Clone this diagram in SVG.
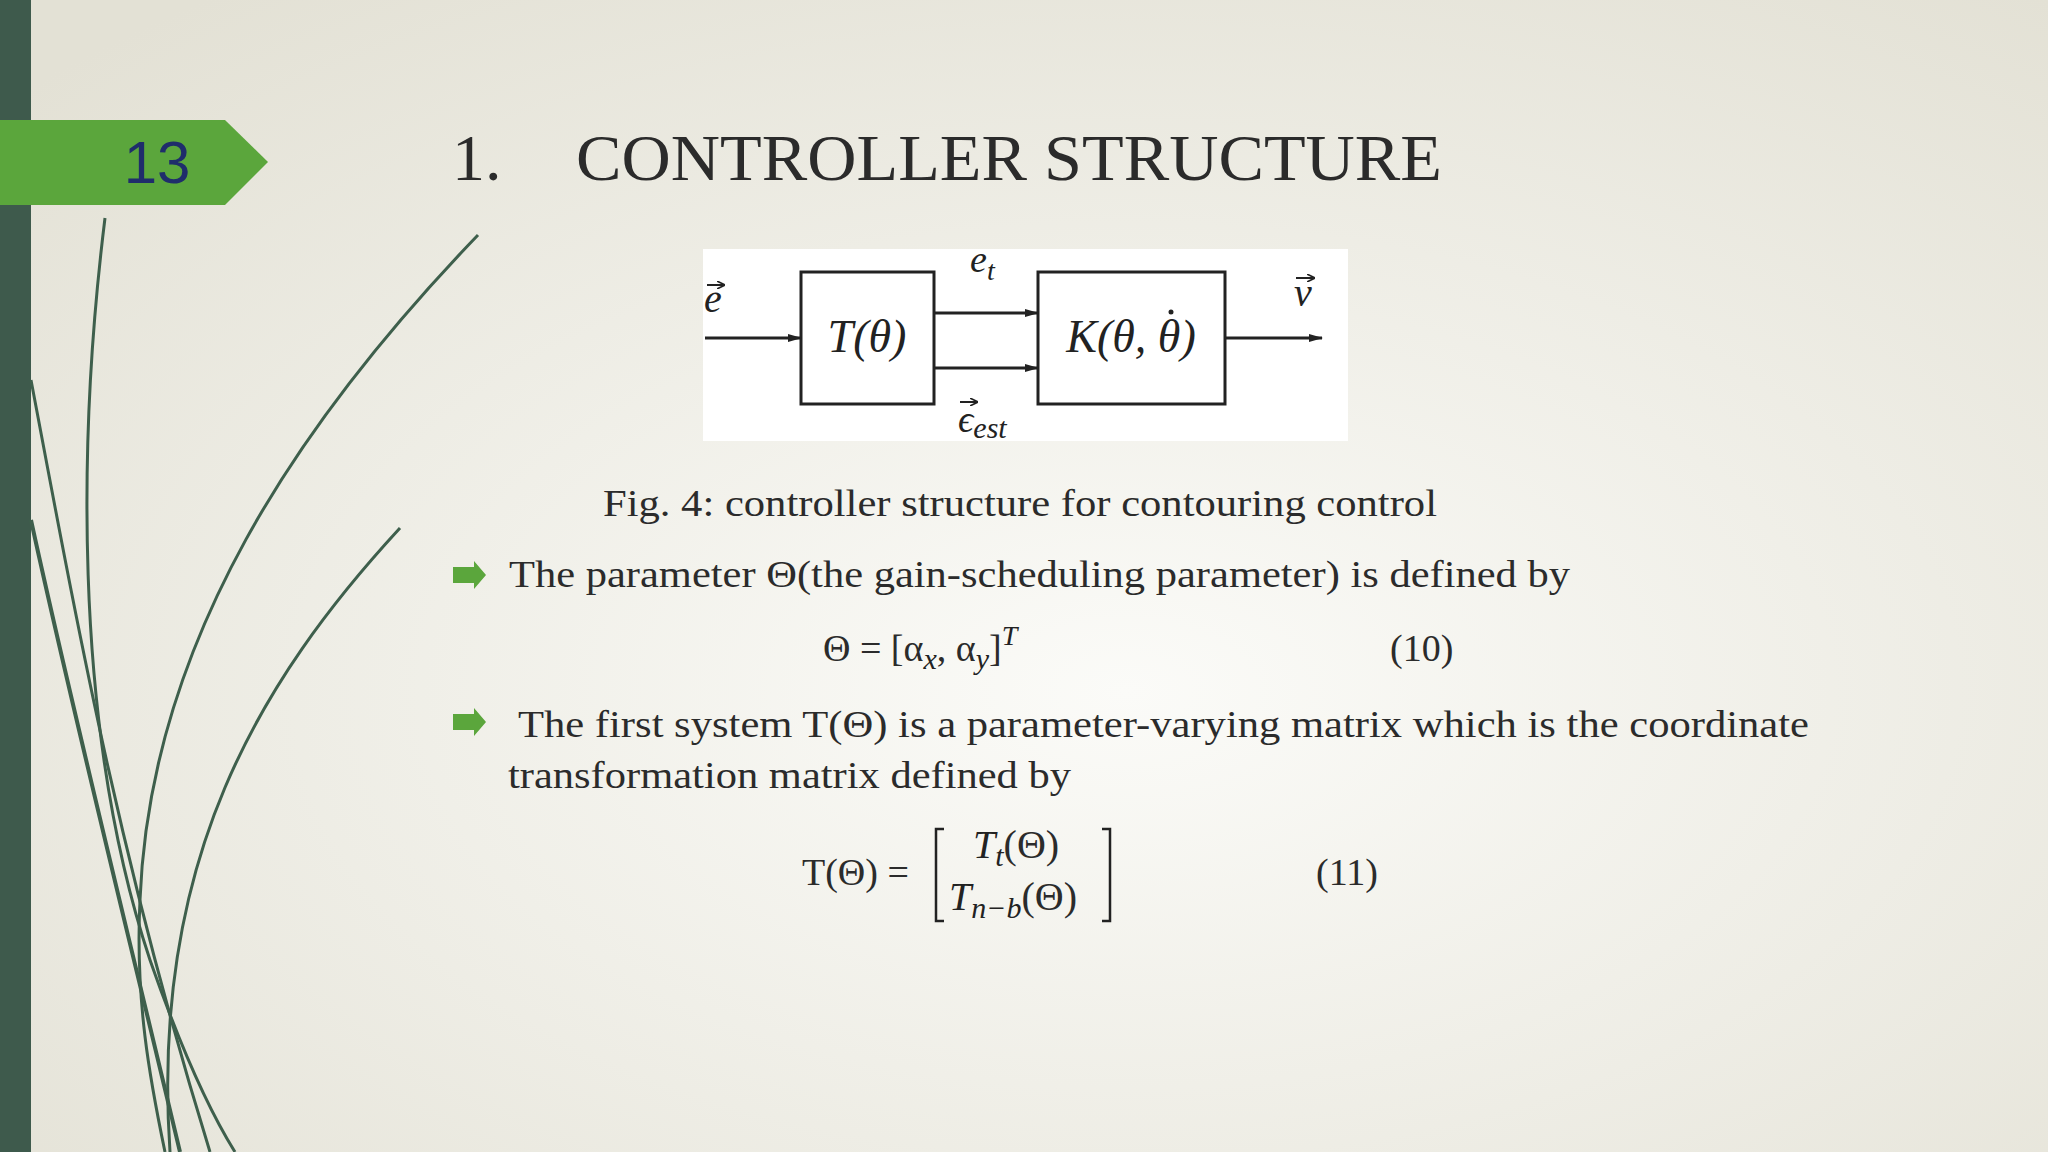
<svg xmlns="http://www.w3.org/2000/svg" width="2048" height="1152" viewBox="0 0 2048 1152">
<defs>
<radialGradient id="bg" cx="0.55" cy="0.6" r="0.75">
<stop offset="0" stop-color="#fbfbf8"/>
<stop offset="1" stop-color="#e3e1d5"/>
</radialGradient>
<marker id="ah" markerWidth="14" markerHeight="10" refX="13" refY="5" orient="auto" markerUnits="userSpaceOnUse">
<path d="M0,1 L14,5 L0,9 z" fill="#222"/>
</marker>
<marker id="va" markerWidth="8" markerHeight="8" refX="7" refY="4" orient="auto" markerUnits="userSpaceOnUse">
<path d="M0,0 L8,4 L0,8" fill="none" stroke="#222" stroke-width="1.6"/>
</marker>
<style>
.t{font-family:"Liberation Serif",serif;fill:#2b2b2b}
.m{font-family:"Liberation Serif",serif;font-style:italic;fill:#222}
.box{fill:none;stroke:#222;stroke-width:3}
.ln{stroke:#222;stroke-width:3;fill:none;marker-end:url(#ah)}
.vec{stroke:#222;stroke-width:2;fill:none;marker-end:url(#va)}
.cv{fill:none;stroke:#3e5f4c}
</style>
</defs>
<rect width="2048" height="1152" fill="url(#bg)"/>
<rect x="0" y="0" width="31" height="1152" fill="#3e5a4c"/>
<g id="curves">
<path class="cv" stroke-width="3" d="M105,218 C80,420 70,720 150,960 C185,1060 215,1120 235,1152"/>
<path class="cv" stroke-width="3" d="M400,528 C260,680 150,860 170,1152"/>
<path class="cv" stroke-width="3" d="M31,380 C80,640 120,860 210,1152"/>
<path class="cv" stroke="#b9c2a6" stroke-width="3" d="M478,235 C300,420 150,640 140,900 C135,1000 150,1080 165,1152"/>
<path class="cv" stroke="#c8c8ba" stroke-width="4" d="M31,520 C70,700 120,900 180,1152"/>
</g>
<g id="banner">
<path d="M0,120 L225,120 L268,162 L225,205 L0,205 z" fill="#5ba63c"/>
<text x="157" y="183" text-anchor="middle" font-family="Liberation Sans,sans-serif" font-size="60" fill="#1f2d6b">13</text>
</g>
<text class="t" x="452" y="180" font-size="66">1.</text>
<text class="t" x="576" y="180" font-size="66" textLength="866" lengthAdjust="spacingAndGlyphs">CONTROLLER STRUCTURE</text>
<g id="figure">
<rect x="703" y="249" width="645" height="192" fill="#ffffff"/>
<g id="nodeT"><rect class="box" x="801" y="272" width="133" height="132"/>
<text class="m" x="867" y="352" font-size="46" text-anchor="middle">T(θ)</text></g>
<g id="nodeK"><rect class="box" x="1038" y="272" width="187" height="132"/>
<text class="m" x="1131" y="352" font-size="46" text-anchor="middle">K(θ, θ)</text>
<circle cx="1171" cy="312" r="2.5" fill="#222"/></g>
<g id="connectors">
<line class="ln" x1="705" y1="338" x2="801" y2="338"/>
<line class="ln" x1="934" y1="313" x2="1038" y2="313"/>
<line class="ln" x1="934" y1="368" x2="1038" y2="368"/>
<line class="ln" x1="1225" y1="338" x2="1322" y2="338"/>
</g>
<text class="m" x="704" y="312" font-size="40">e</text>
<line class="vec" x1="707" y1="285" x2="724" y2="285"/>
<text class="m" x="970" y="272" font-size="38">e<tspan font-size="28" dy="8">t</tspan></text>
<text class="m" x="958" y="432" font-size="38">ϵ<tspan font-size="30" dy="6">est</tspan></text>
<line class="vec" x1="960" y1="402" x2="977" y2="402"/>
<text class="m" x="1294" y="306" font-size="40">v</text>
<line class="vec" x1="1296" y1="278" x2="1314" y2="278"/>
</g>
<text class="t" x="603" y="516" font-size="38" textLength="834" lengthAdjust="spacingAndGlyphs">Fig. 4: controller structure for contouring control</text>
<path d="M453,567 L474,567 L474,561 L486,575 L474,589 L474,583 L453,583 z" fill="#5ba63c"/>
<text class="t" x="509" y="587" font-size="38" textLength="1061" lengthAdjust="spacingAndGlyphs">The parameter Θ(the gain-scheduling parameter) is defined by</text>
<text class="t" x="823" y="661" font-size="38">Θ =  [α<tspan class="m" font-size="30" dy="8">x</tspan><tspan dy="-8">, α</tspan><tspan class="m" font-size="30" dy="8">y</tspan><tspan dy="-8">]</tspan><tspan class="m" font-size="28" dy="-16">T</tspan></text>
<text class="t" x="1390" y="661" font-size="38">(10)</text>
<path d="M453,714 L474,714 L474,708 L486,722 L474,736 L474,730 L453,730 z" fill="#5ba63c"/>
<text class="t" x="518" y="737" font-size="38" textLength="1291" lengthAdjust="spacingAndGlyphs">The first system T(Θ) is a parameter-varying matrix which is the coordinate</text>
<text class="t" x="508" y="788" font-size="38" textLength="563" lengthAdjust="spacingAndGlyphs">transformation matrix defined by</text>
<text class="t" x="802" y="885" font-size="38">T(Θ) =</text>
<path d="M944,829 L936,829 L936,921 L944,921 M1102,829 L1110,829 L1110,921 L1102,921" fill="none" stroke="#222" stroke-width="2.5"/>
<text class="m" x="973" y="858" font-size="40">T<tspan font-size="30" dy="8">t</tspan><tspan class="t" font-style="normal" dy="-8">(Θ)</tspan></text>
<text class="m" x="949" y="910" font-size="40">T<tspan font-size="30" dy="8">n−b</tspan><tspan class="t" font-style="normal" dy="-8">(Θ)</tspan></text>
<text class="t" x="1316" y="885" font-size="38">(11)</text>
</svg>
